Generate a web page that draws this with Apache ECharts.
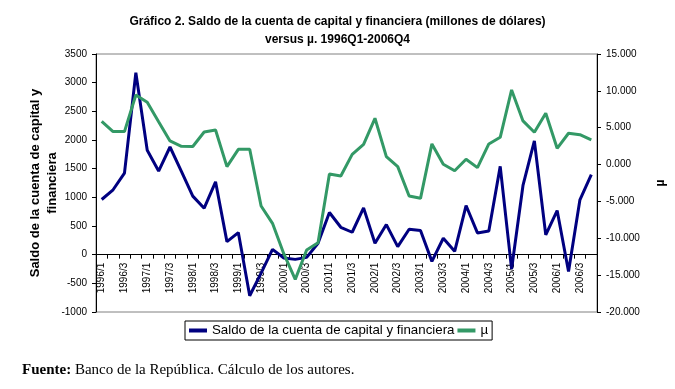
<!DOCTYPE html>
<html>
<head>
<meta charset="utf-8">
<script src="https://cdn.jsdelivr.net/npm/echarts@6/dist/echarts.min.js"></script>
<style>
html,body{margin:0;padding:0;background:#fff;}
#chart{width:675px;height:389px;}
</style>
</head>
<body>
<div id="chart"></div>
<script>
var categories = ["1996/1","1996/2","1996/3","1996/4","1997/1","1997/2","1997/3","1997/4",
  "1998/1","1998/2","1998/3","1998/4","1999/1","1999/2","1999/3","1999/4",
  "2000/1","2000/2","2000/3","2000/4","2001/1","2001/2","2001/3","2001/4",
  "2002/1","2002/2","2002/3","2002/4","2003/1","2003/2","2003/3","2003/4",
  "2004/1","2004/2","2004/3","2004/4","2005/1","2005/2","2005/3","2005/4",
  "2006/1","2006/2","2006/3","2006/4"];

var saldo = [962,1132,1423,3173,1820,1458,1878,1452,1021,811,
  1271,227,385,-717,-321,93,-58,-82,-47,198,
  735,478,391,816,198,525,140,443,420,-117,
  286,58,857,379,414,1540,-251,1207,1983,344,
  770,-292,957,1394];

var mu = [5.87,4.47,4.47,9.44,8.45,5.8,3.2,2.48,2.45,4.42,
  4.69,-0.28,2.07,2.07,-5.62,-7.97,-12.13,-15.57,-11.59,-10.6,
  -1.28,-1.55,1.39,2.75,6.28,1.07,-0.28,-4.26,-4.58,2.8,
  0.04,-0.83,0.72,-0.42,2.8,3.7,10.12,5.92,4.38,6.96,
  2.21,4.25,4.06,3.34];

var seriesNames = ["Saldo de la cuenta de capital y financiera", "\u00b5"];
var titleText = "Gráfico 2. Saldo de la cuenta de capital y financiera (millones de dólares)\nversus \u00b5. 1996Q1-2006Q4";
var leftAxisName = "Saldo de la cuenta de capital y\nfinanciera";
var sourceNote = "{b|Fuente:} Banco de la República. Cálculo de los autores.";

var FONT = "'Liberation Sans', Arial, sans-serif";
var SERIF = "'Liberation Serif', 'Times New Roman', serif";
var GRID = {left: 96, right: 76, top: 54, bottom: 77};

var chart = echarts.init(document.getElementById('chart'), null, {renderer: 'canvas'});
chart.setOption({
  animation: false,
  backgroundColor: '#ffffff',
  title: {
    text: titleText,
    left: 'center',
    top: 8,
    textStyle: {fontFamily: FONT, fontSize: 12, fontWeight: 'bold', color: '#000', lineHeight: 18}
  },
  grid: {
    left: GRID.left, right: GRID.right, top: GRID.top, bottom: GRID.bottom,
    show: true, borderColor: '#808080', borderWidth: 1, backgroundColor: 'transparent'
  },
  legend: {
    data: seriesNames,
    left: 185, top: 321,
    orient: 'horizontal',
    icon: 'rect',
    itemWidth: 18, itemHeight: 4, itemGap: 3,
    padding: [3, 4, 3, 4],
    borderColor: '#000', borderWidth: 1,
    textStyle: {fontFamily: FONT, fontSize: 13.3, color: '#000'}
  },
  xAxis: {
    type: 'category',
    data: categories,
    boundaryGap: true,
    offset: 0,
    axisLine: {onZero: false, lineStyle: {color: '#000', width: 1}},
    axisTick: {show: true, interval: 0, length: 4, lineStyle: {color: '#000'}},
    axisLabel: {interval: 1, rotate: 90, fontFamily: FONT, fontSize: 10, color: '#000', margin: 8},
    splitLine: {show: false}
  },
  yAxis: [{
    type: 'value',
    min: -1000, max: 3500, interval: 500,
    position: 'left',
    name: leftAxisName,
    nameLocation: 'middle',
    nameGap: 35,
    nameMoveOverlap: false,
    nameRotate: 90,
    nameTextStyle: {fontFamily: FONT, fontSize: 13, fontWeight: 'bold', color: '#000', lineHeight: 17},
    axisLine: {show: true, lineStyle: {color: '#000'}},
    axisTick: {show: true, length: 4, lineStyle: {color: '#000'}},
    axisLabel: {fontFamily: FONT, fontSize: 10, color: '#000', margin: 9,
      formatter: function (v) { return String(v); }},
    splitLine: {show: false}
  }, {
    type: 'value',
    min: -20, max: 15, interval: 5,
    position: 'right',
    name: seriesNames[1],
    nameLocation: 'middle',
    nameGap: 58,
    nameRotate: 90,
    nameTextStyle: {fontFamily: FONT, fontSize: 12, fontWeight: 'bold', color: '#000'},
    axisLine: {show: true, lineStyle: {color: '#000'}},
    axisTick: {show: true, length: 4, lineStyle: {color: '#000'}},
    axisLabel: {fontFamily: FONT, fontSize: 10, color: '#000', margin: 9,
      formatter: function (v) { return v.toFixed(3); }},
    splitLine: {show: false}
  }],
  series: [{
    name: seriesNames[0],
    type: 'line',
    yAxisIndex: 0,
    data: saldo,
    symbol: 'none',
    color: '#000080',
    lineStyle: {color: '#000080', width: 3},
    z: 2
  }, {
    name: seriesNames[1],
    type: 'line',
    yAxisIndex: 1,
    data: mu,
    symbol: 'none',
    color: '#339966',
    lineStyle: {color: '#339966', width: 3},
    z: 3
  }],
  graphic: [{
    type: 'text',
    left: 22,
    top: 363,
    style: {
      text: sourceNote,
      fontFamily: SERIF,
      fontSize: 15,
      fill: '#000',
      rich: {b: {fontWeight: 'bold', fontFamily: SERIF, fontSize: 15}}
    }
  }]
});

// Place the category axis (line, ticks and labels) on the zero value of the left axis,
// using the library's own scale to find where zero lies.
var zeroY = chart.convertToPixel({yAxisIndex: 0}, 0);
var bottomY = chart.getHeight() - GRID.bottom;
chart.setOption({xAxis: {offset: zeroY - bottomY}});
</script>
</body>
</html>
